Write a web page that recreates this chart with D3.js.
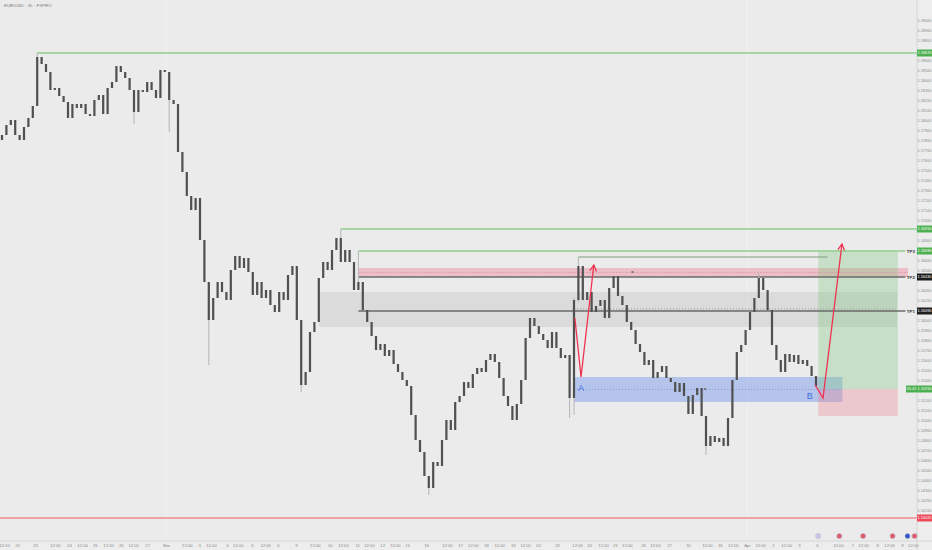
<!DOCTYPE html>
<html>
<head>
<meta charset="utf-8">
<script src="https://cdn.jsdelivr.net/npm/d3@7"></script>
<style>
  html, body { margin: 0; padding: 0; background: #ebebeb; }
  svg { display: block; font-family: "Liberation Sans", Arial, sans-serif; }
</style>
</head>
<body>
<svg id="chart" width="932" height="550"></svg>
<script>
// EUR/USD 4h-ish candles (closes), open = previous close
const firstOpen = 1.1780;
const closes = [
  1.1785, 1.1795, 1.1800, 1.1785, 1.1780, 1.1793, 1.1802, 1.1814, 1.1863, 1.1856,
  1.1848, 1.1830, 1.1832, 1.1824, 1.1818, 1.1802, 1.1816, 1.1812, 1.1816, 1.1806,
  1.1804, 1.1820, 1.1825, 1.1806, 1.1832, 1.1838, 1.1854, 1.1848, 1.1842, 1.1830,
  1.1808, 1.1830, 1.1828, 1.1838, 1.1830, 1.1822, 1.1850, 1.1848, 1.1820, 1.1816,
  1.1768, 1.1748, 1.1724, 1.1710, 1.1722, 1.1680, 1.1638, 1.1600, 1.1622, 1.1638,
  1.1628, 1.1620, 1.1650, 1.1664, 1.1652, 1.1662, 1.1648, 1.1625, 1.1638, 1.1622,
  1.1630, 1.1615, 1.1608, 1.1628, 1.1620, 1.1645, 1.1654, 1.1600, 1.1535, 1.1548,
  1.1588, 1.1598, 1.1642, 1.1658, 1.1650, 1.1670, 1.1682, 1.1658, 1.1670, 1.1658,
  1.1630, 1.1638, 1.1610, 1.1598, 1.1584, 1.1570, 1.1576, 1.1564, 1.1570, 1.1556,
  1.1548, 1.1540, 1.1534, 1.1505, 1.1480, 1.1468, 1.1444, 1.1432, 1.1458, 1.1454,
  1.1480, 1.1500, 1.1490, 1.1518, 1.1524, 1.1538, 1.1532, 1.1546, 1.1552, 1.1548,
  1.1560, 1.1566, 1.1558, 1.1542, 1.1524, 1.1514, 1.1500, 1.1516, 1.1540, 1.1582,
  1.1602, 1.1594, 1.1586, 1.1580, 1.1572, 1.1588, 1.1572, 1.1562, 1.1565, 1.1522,
  1.1620, 1.1654, 1.1620, 1.1628, 1.1608, 1.1614, 1.1620, 1.1602, 1.1632, 1.1644,
  1.1624, 1.1615, 1.1598, 1.1590, 1.1576, 1.1568, 1.1555, 1.1560, 1.1542, 1.1548,
  1.1554, 1.1542, 1.1538, 1.1528, 1.1537, 1.1524, 1.1506, 1.1525, 1.1532, 1.1504,
  1.1474, 1.1484, 1.1478, 1.1482, 1.1474, 1.1502, 1.1540, 1.1568, 1.1575, 1.1590,
  1.1608, 1.1622, 1.1642, 1.1630, 1.1610, 1.1575, 1.1560, 1.1548, 1.1566, 1.1558,
  1.1565, 1.1556, 1.1560, 1.1554, 1.1544, 1.1534
];
// notable wicks: [candle, high, low]
const wicks = [
  [8, 1.1867, 1.1820], [30, 1.1830, 1.1796], [38, 1.1848, 1.1788], [47, 1.1638, 1.1555],
  [68, 1.1600, 1.1528], [77, 1.1691, 1.1658], [81, 1.1669, 1.1630], [97, 1.1444, 1.1425],
  [129, 1.1565, 1.1502], [130, 1.1622, 1.1505], [131, 1.1663, 1.1618], [160, 1.1504, 1.1465],
  [172, 1.1647, 1.1622]
];

// drawn levels
const levelPrice = [1.1867, 1.1691, 1.1669, 1.1663, 1.1643, 1.1609, 1.1402];
const levelFrom  = [8, 77, 81, 131, 81, 81, -1];
const levelTo    = [208.5, 208.5, 205.3, 187.6, 205.3, 205.3, 208.5];
const levelTag   = ["", "", "TP3", "", "TP2", "TP1", ""];

// zones: pink supply, gray range, blue demand, target, stop
const zoneTop    = [1.1652, 1.1628, 1.1543, 1.1669, 1.1531];
const zoneBottom = [1.1643, 1.1593, 1.1518, 1.1531, 1.1504];
const zoneFrom   = [81, 72, 130, 185.5, 185.5];
const zoneTo     = [205.9, 203.4, 191, 203.6, 203.6];

// projection arrows [candle, price]
const arrowA = [[130.2, 1.1602], [131.6, 1.1543], [134.5, 1.1655]];
const arrowB = [[184.8, 1.1535], [186.6, 1.1522], [190.9, 1.1676]];
const pointLabels = [["A", 131.6, 1.1532], ["B", 183.6, 1.1524]];

const lastPrice = 1.1531;
const priceTicks = d3.range(1.140, 1.1905, 0.001);

const timeTickIdx = [0.45, 3.4, 7.5, 12, 15.2, 18.2, 21.1, 24.1, 27, 29.8, 33, 37.3, 42, 44.8, 47.5,
  51.1, 53.6, 56.8, 59.8, 62.7, 66.8, 71.1, 74.5, 77.5, 80.7, 83.4, 86.4, 89.3, 92, 96.4, 101.1,
  104.1, 107, 110, 113, 116.1, 118.9, 121.8, 126.1, 130.7, 133.4, 136.6, 139.3, 142, 145.7, 148.4,
  151.6, 155.9, 160.2, 163.2, 166.1, 169.3, 172.3, 175.2, 178.2, 181.1, 185.2, 190, 193.2, 195.7,
  198.9, 201.6, 204.5, 207];
const timeTickText = ["12:00","20","23","12:00","24","12:00","25","12:00","26","12:00","27","Mar",
  "12:00","3","12:00","4","12:00","5","12:00","6","9","12:00","10","12:00","11","12:00","12","12:00",
  "13","16","12:00","17","12:00","18","12:00","19","12:00","20","23","12:00","24","12:00","25",
  "12:00","26","12:00","27","30","12:00","31","12:00","Apr","12:00","2","12:00","3","6","12:00","7",
  "12:00","8","12:00","9","12:00"];

const eventIdx = [185.5, 190.3, 195.7, 202.4, 205.8, 207.4];

const W = 932, H = 550;
const PLOT_R = 917, PLOT_B = 541;

const x = d3.scaleLinear().domain([0, 208]).range([2, 2 + 208 * 4.4]);
const y = d3.scaleLinear().domain([1.1920 - 0.0541, 1.1920]).range([PLOT_B, 0]);

const svg = d3.select('#chart');

svg.append('rect').attr('width', W).attr('height', H).attr('fill', '#ebebeb');

const plot = svg.append('g');

// faint vertical month separators
plot.selectAll('line.vsep')
  .data([37.3, 169.3])
  .join('line')
  .attr('x1', (d) => x(d)).attr('x2', (d) => x(d))
  .attr('y1', 0).attr('y2', PLOT_B)
  .attr('stroke', '#eeeeee').attr('stroke-width', 2);

// zones
const zoneFill = ['rgba(240,120,145,0.38)', 'rgba(190,190,190,0.35)', 'rgba(95,135,235,0.38)',
  'rgba(120,200,120,0.32)', 'rgba(235,120,135,0.30)'];
plot.selectAll('rect.zone')
  .data(zoneTop.map((t, k) => ({ t, b: zoneBottom[k], f: zoneFrom[k], e: zoneTo[k], k })))
  .join('rect')
  .attr('x', (d) => x(d.f))
  .attr('y', (d) => y(d.t))
  .attr('width', (d) => x(d.e) - x(d.f))
  .attr('height', (d) => y(d.b) - y(d.t))
  .attr('fill', (d) => zoneFill[d.k]);

// dotted mid lines in pink, gray and blue zones
const dotColor = ['#d98a99', '#9a9a9a', '#8a9cc8'];
plot.selectAll('line.mid')
  .data([0, 1, 2])
  .join('line')
  .attr('x1', (k) => x(k === 1 ? 130 : zoneFrom[k]))
  .attr('x2', (k) => x(zoneTo[k]))
  .attr('y1', (k) => y(k === 1 ? 1.1611 : (zoneTop[k] + zoneBottom[k]) / 2))
  .attr('y2', (k) => y(k === 1 ? 1.1611 : (zoneTop[k] + zoneBottom[k]) / 2))
  .attr('stroke', (k) => dotColor[k])
  .attr('stroke-width', 1)
  .attr('stroke-dasharray', '1,2');

// horizontal levels
const levelColor = ['#8fcf8f', '#8fcf8f', '#8fcf8f', '#7f9f7f', '#6a6a6a', '#6a6a6a', '#f08a8a'];
plot.selectAll('line.level')
  .data(levelPrice.map((p, k) => ({ p, k })))
  .join('line')
  .attr('x1', (d) => Math.max(0, x(levelFrom[d.k])))
  .attr('x2', (d) => Math.min(PLOT_R, x(levelTo[d.k])))
  .attr('y1', (d) => y(d.p)).attr('y2', (d) => y(d.p))
  .attr('stroke', (d) => levelColor[d.k])
  .attr('stroke-width', (d) => (d.k === 3 ? 1 : 1.3));

plot.selectAll('text.tag')
  .data(levelPrice.map((p, k) => ({ p, k })).filter((d) => levelTag[d.k]))
  .join('text')
  .attr('x', (d) => x(levelTo[d.k]) + 1.5)
  .attr('y', (d) => y(d.p) + 1.6)
  .attr('font-size', 4.4)
  .attr('font-weight', 'bold')
  .attr('fill', '#333')
  .text((d) => levelTag[d.k]);

// candles
const wickMap = new Map(wicks.map((w) => [w[0], w]));
const candles = closes.map((c, i) => {
  const o = i === 0 ? firstOpen : closes[i - 1];
  const w = wickMap.get(i);
  return {
    i, o, c,
    h: w ? Math.max(w[1], o, c) : Math.max(o, c),
    l: w ? Math.min(w[2], o, c) : Math.min(o, c)
  };
});

plot.selectAll('line.wick')
  .data(candles)
  .join('line')
  .attr('x1', (d) => x(d.i)).attr('x2', (d) => x(d.i))
  .attr('y1', (d) => y(d.h)).attr('y2', (d) => y(d.l))
  .attr('stroke', '#b4b4b4').attr('stroke-width', 1);

plot.selectAll('rect.body')
  .data(candles)
  .join('rect')
  .attr('x', (d) => x(d.i) - 1.1)
  .attr('width', 2.2)
  .attr('y', (d) => y(Math.max(d.o, d.c)))
  .attr('height', (d) => Math.max(1, Math.abs(y(d.o) - y(d.c))))
  .attr('fill', '#505050');

// small markers
plot.selectAll('rect.mark')
  .data([[143.3, 1.1648], [159.8, 1.1531]])
  .join('rect')
  .attr('x', (d) => x(d[0]) - 1).attr('y', (d) => y(d[1]) - 1)
  .attr('width', 2).attr('height', 2).attr('fill', '#777');

// arrows
const line = d3.line().x((d) => x(d[0])).y((d) => y(d[1]));
[arrowA, arrowB].forEach((pts) => {
  plot.append('path')
    .attr('d', line(pts))
    .attr('fill', 'none')
    .attr('stroke', '#ee3350')
    .attr('stroke-width', 1.3);
  const a = pts[pts.length - 2], b = pts[pts.length - 1];
  const ang = Math.atan2(y(b[1]) - y(a[1]), x(b[0]) - x(a[0]));
  const tip = [x(b[0]), y(b[1])];
  const head = [ang + Math.PI - 0.5, ang + Math.PI + 0.5].map((t) => [tip[0] + 7 * Math.cos(t), tip[1] + 7 * Math.sin(t)]);
  plot.append('path')
    .attr('d', `M${head[0]}L${tip}L${head[1]}`)
    .attr('fill', 'none')
    .attr('stroke', '#ee3350')
    .attr('stroke-width', 1.3);
});

plot.selectAll('text.pt')
  .data(pointLabels)
  .join('text')
  .attr('x', (d) => x(d[1]))
  .attr('y', (d) => y(d[2]) + 3)
  .attr('text-anchor', 'middle')
  .attr('font-size', 9)
  .attr('fill', '#3d6fe0')
  .text((d) => d[0]);

// title
svg.append('text').attr('x', 4).attr('y', 6.5).attr('font-size', 4.4).attr('fill', '#777')
  .text('EUR/USD · 1h · FXPRO');
svg.append('text').attr('x', 924.5).attr('y', 7).attr('text-anchor', 'middle')
  .attr('font-size', 4.4).attr('fill', '#777').text('USD');

// axes frame
svg.append('rect').attr('x', PLOT_R).attr('y', 0).attr('width', W - PLOT_R).attr('height', H).attr('fill', '#ededed');
svg.append('rect').attr('x', 0).attr('y', PLOT_B).attr('width', W).attr('height', H - PLOT_B).attr('fill', '#ededed');
svg.append('line').attr('x1', PLOT_R).attr('x2', PLOT_R).attr('y1', 0).attr('y2', H).attr('stroke', '#d6d6d6');
svg.append('line').attr('x1', 0).attr('x2', W).attr('y1', PLOT_B).attr('y2', PLOT_B).attr('stroke', '#d6d6d6');

// price labels on axis
const tagColor = ['#4caf50', '#4caf50', '#4caf50', null, '#1e1e1e', '#1e1e1e', '#f04a5a'];
const axisTags = levelPrice.map((p, k) => ({ p, c: tagColor[k] })).filter((d) => d.c);
axisTags.push({ p: lastPrice, c: '#4caf50', last: true });

// price axis, hide ticks that sit under a tag
const shownTicks = priceTicks.filter((t) => axisTags.every((d) => Math.abs(y(d.p) - y(t)) > 6));
const yAxis = d3.axisRight(y).tickValues(shownTicks).tickFormat(d3.format('.5f')).tickSize(0).tickPadding(0);
svg.append('g')
  .attr('transform', `translate(${PLOT_R},0)`)
  .call(yAxis)
  .call((g) => g.select('.domain').remove())
  .call((g) => g.selectAll('text')
    .attr('x', 7.5).attr('text-anchor', 'middle')
    .attr('font-size', 3.9).attr('fill', '#8a8a8a').attr('font-family', 'Liberation Sans'));

// time axis
const xAxis = d3.axisBottom(x).tickValues(timeTickIdx).tickFormat((d, k) => timeTickText[k]).tickSize(0).tickPadding(3);
svg.append('g')
  .attr('transform', `translate(0,${PLOT_B})`)
  .call(xAxis)
  .call((g) => g.select('.domain').remove())
  .call((g) => g.selectAll('text').attr('font-size', 4.2).attr('fill', '#8a8a8a').attr('font-family', 'Liberation Sans'));

const tagG = svg.selectAll('g.tag').data(axisTags).join('g')
  .attr('transform', (d) => `translate(${PLOT_R},${y(d.p)})`);
tagG.append('rect')
  .attr('x', (d) => (d.last ? -11 : 0)).attr('y', -3.5)
  .attr('width', (d) => (d.last ? 26 : 15)).attr('height', 7)
  .attr('fill', (d) => d.c);
tagG.append('text')
  .attr('x', 7.5).attr('y', 1.4).attr('text-anchor', 'middle')
  .attr('font-size', 3.9).attr('fill', '#fff')
  .text((d) => d3.format('.5f')(d.p));
tagG.filter((d) => d.last).append('text')
  .attr('x', -5.5).attr('y', 1.4).attr('text-anchor', 'middle')
  .attr('font-size', 3.9).attr('fill', '#fff').text('05:41');

// economic event markers
const evColor = ['#c9c9e8', '#e25a6a', '#e25a6a', '#e25a6a', '#2f55c8', '#e25a6a'];
svg.selectAll('circle.ev')
  .data(eventIdx)
  .join('circle')
  .attr('cx', (d) => x(d)).attr('cy', 536)
  .attr('r', 2.6)
  .attr('fill', (d, k) => evColor[k])
  .attr('stroke', '#b8b8d8').attr('stroke-width', 0.6);
</script>
</body>
</html>
